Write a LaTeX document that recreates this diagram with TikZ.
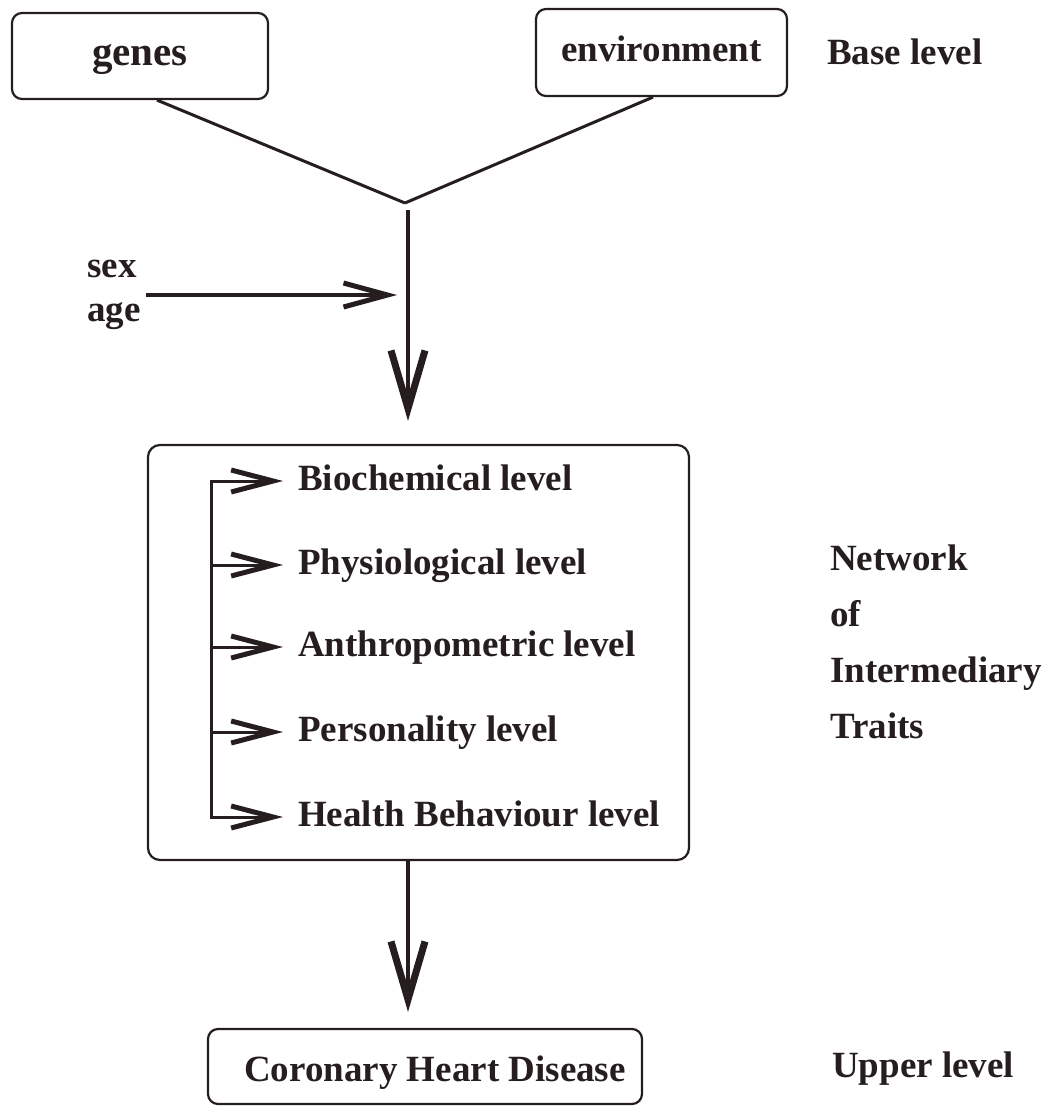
\documentclass[tikz,border=0pt]{standalone}
\usepackage{fontspec}
\setmainfont{Liberation Serif}
\usetikzlibrary{arrows.meta}
\definecolor{ink}{RGB}{38,30,30}
\begin{document}
\begin{tikzpicture}[x=1pt,y=-1pt,
  txt/.style={font=\bfseries\fontsize{37}{44}\selectfont, inner sep=0pt, text=ink},
  box/.style={draw=ink, rounded corners=10pt, line width=2.2pt, txt, text height=26pt, text depth=8pt},
  conn/.style={draw=ink, line width=3pt},
  bigarr/.style={draw=ink, line width=4.5pt, -{Straight Barb[length=58pt,width=34pt,line width=7pt]}},
  midarr/.style={draw=ink, line width=3.2pt, -{Straight Barb[length=44pt,width=24pt,line width=5pt]}},
  smallarr/.style={draw=ink, line width=3pt, -{Straight Barb[length=42pt,width=22pt,line width=5pt]}},
]
\useasboundingbox (0,0) rectangle (1047,1106);

% base level
\node[box, minimum width=256pt, minimum height=86pt, font=\bfseries\fontsize{41}{48}\selectfont] (genes) at (140,56) {genes};
\node[box, minimum width=251pt, minimum height=87pt] (env) at (661.5,52.5) {environment};
\node[txt, anchor=base west] (base) at (827,64) {Base level};

\coordinate (jt) at (405,203);
\coordinate (j) at (408,210);
\draw[conn] ([xshift=17pt]genes.south) -- (jt);
\draw[conn] ([xshift=-8.5pt]env.south) -- (jt);

% intermediary box
\node[draw=ink, rounded corners=12pt, line width=2.2pt, minimum width=541pt, minimum height=415pt] (net) at (418.5,652.5) {};
\draw[bigarr, shorten >=23pt] (j) -- (j |- net.north);

% sex / age
\node[txt, align=left, anchor=north west, font=\bfseries\fontsize{37}{44}\selectfont] (sexage) at (87,260) {sex\\age};
\draw[midarr, shorten >=11pt] ([xshift=5pt]sexage.east) -- (sexage.east -| j);

% levels
\tikzset{lvl/.style={txt, text height=26pt, text depth=8pt, anchor=base west}}
\node[lvl] (l1) at (298,490) {Biochemical level};
\node[lvl] (l2) at (298,574) {Physiological level};
\node[lvl] (l3) at (298,656) {Anthropometric level};
\node[lvl] (l4) at (298,741) {Personality level};
\node[lvl] (l5) at (298,826) {Health Behaviour level};
\coordinate (b1) at (211,481);
\coordinate (b2) at (211,565);
\coordinate (b3) at (211,647);
\coordinate (b4) at (211,732);
\coordinate (b5) at (211,817);
\draw[conn, line cap=rect] (b1) -- (b5);
\draw[smallarr, shorten >=15pt] (b1) -- (l1);
\draw[smallarr, shorten >=15pt] (b2) -- (l2);
\draw[smallarr, shorten >=15pt] (b3) -- (l3);
\draw[smallarr, shorten >=15pt] (b4) -- (l4);
\draw[smallarr, shorten >=15pt] (b5) -- (l5);

\node[txt, align=left, anchor=north west, font=\bfseries\fontsize{37}{56}\selectfont] (nit) at (830,545) {Network\\of\\Intermediary\\Traits};

% upper level
\node[box, minimum width=434pt, minimum height=75pt, text height=29pt, text depth=0pt] (chd) at (425,1066.5) {\hspace*{20pt}Coronary Heart Disease};
\draw[bigarr, shorten >=16pt] (j |- net.south) -- (j |- chd.north);
\node[txt, anchor=base west] (upper) at (832,1077) {Upper level};
\end{tikzpicture}
\end{document}
